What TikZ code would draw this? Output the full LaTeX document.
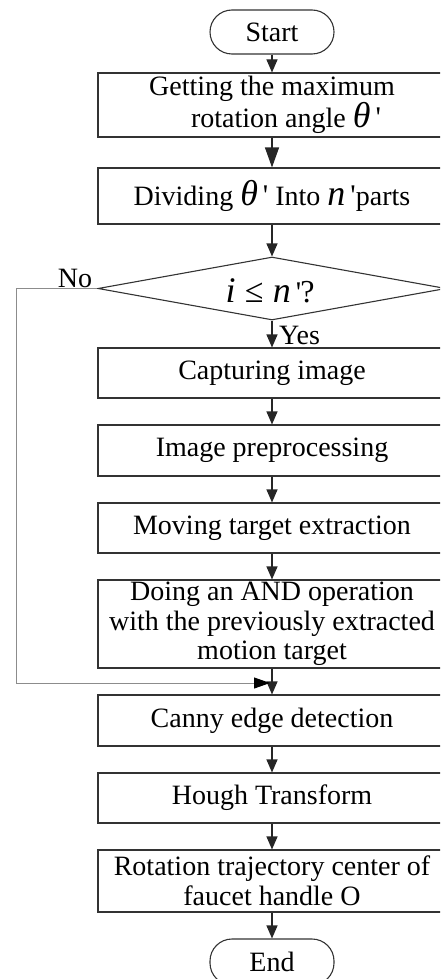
\documentclass[tikz,border=0pt]{standalone}
\usepackage{fontspec}
\setmainfont{Liberation Serif}
\usetikzlibrary{arrows.meta,shapes.geometric}
\newcommand{\mth}[1]{{\fontsize{36}{36}\selectfont\itshape #1}}
\newcommand{\prm}{{\fontsize{30}{30}\selectfont\,\textquotesingle}}
\begin{document}
\begin{tikzpicture}[x=1pt,y=-1pt,
  every node/.style={font=\fontsize{28}{29.5}\selectfont, text=black},
  box/.style={draw=black!80, line width=1.1pt, minimum width=348pt, inner sep=0pt, align=center},
  term/.style={draw=black!80, line width=1.1pt, rounded corners=22pt, minimum width=124pt, minimum height=44pt, inner sep=0pt},
  dia/.style={draw=black!80, line width=1.1pt, diamond, aspect=5.5, minimum width=348pt, minimum height=63pt, inner sep=0pt},
  arr/.style={-{Triangle[width=11pt,length=13pt]}, line width=1.1pt, draw=black!85},
  bigarr/.style={-{Triangle[width=14pt,length=20pt]}, line width=1.1pt, draw=black!85},
  loopline/.style={draw=black!45, line width=0.9pt, -{Triangle[width=11pt,length=16pt,color=black]}},
  lbl/.style={inner sep=0pt}]
\useasboundingbox (0,0) rectangle (440,979);
\clip (0,0) rectangle (440,979);
\node[term] (start) at (272,32) {Start};
\node[box, minimum height=64pt] (b1) at (272,105) {\raisebox{0pt}[0pt][0pt]{}Getting the maximum\\\hspace*{28pt}rotation angle \mth{θ}\prm};
\node[box, minimum height=56pt] (b2) at (272,196) {Dividing \mth{θ}\prm{} Into \mth{n}\prm parts};
\node[dia] (dec) at (272,288.5) {};
\node[lbl] (dect) at (270,291) {\mth{i}\,\,{\fontsize{34}{34}\selectfont≤}\,\,\mth{n}\prm\kern-1pt{\fontsize{32}{32}\selectfont ?}};
\node[box, minimum height=50pt] (b3) at (272,373) {Capturing image};
\node[box, minimum height=51pt] (b4) at (272,450.5) {Image preprocessing};
\node[box, minimum height=50pt] (b5) at (272,528) {Moving target extraction};
\node[box, minimum height=88pt] (b6) at (272,624) {Doing an AND operation\\with the previously extracted\\motion target};
\node[box, minimum height=51pt] (b7) at (272,720.5) {Canny edge detection};
\node[box, minimum height=50pt] (b8) at (272,798) {Hough Transform};
\node[box, minimum height=62pt] (b9) at (272,881) {Rotation trajectory center of\\faucet handle O};
\node[term, minimum height=46pt] (end) at (272,962) {End};
\node[lbl, anchor=base] (no) at (75,287) {No};
\node[lbl, anchor=base west] (yes) at (279,344) {Yes};
\coordinate (jl) at (270,683);
\draw[arr] (start) -- (b1);
\draw[bigarr] (b1) -- (b2);
\draw[arr] (b2) -- (dec);
\draw[arr] (dec) -- (b3);
\draw[arr] (b3) -- (b4);
\draw[arr] (b4) -- (b5);
\draw[arr] (b5) -- (b6);
\draw[arr] (b6) -- (b7);
\draw[arr] (b7) -- (b8);
\draw[arr] (b8) -- (b9);
\draw[arr] (b9) -- (end);
\draw[loopline] (dec.west) -- (16,288.5) |- (jl);
\end{tikzpicture}
\end{document}
